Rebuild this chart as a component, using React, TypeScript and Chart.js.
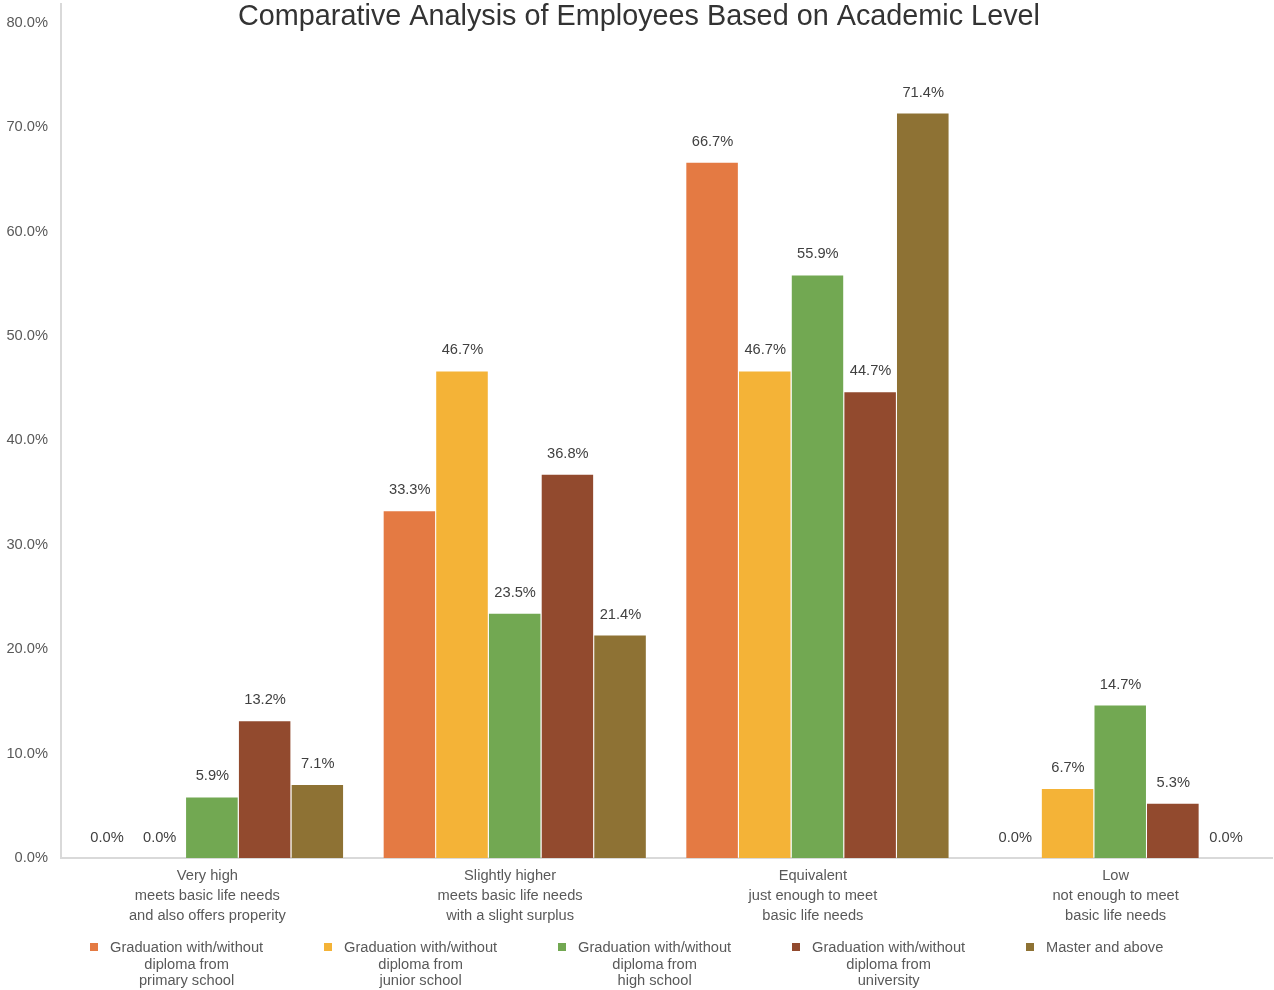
import React, { useEffect, useRef } from "react";
import { Chart, registerables } from "chart.js";

Chart.register(...registerables);

const categories: string[][] = [
  ["Very high", "meets basic life needs", "and also offers properity"],
  ["Slightly higher", "meets basic life needs", "with a slight surplus"],
  ["Equivalent", "just enough to meet", "basic life needs"],
  ["Low", "not enough to meet", "basic life needs"],
];

const seriesNames: string[][] = [
  ["Graduation with/without", "diploma from", "primary school"],
  ["Graduation with/without", "diploma from", "junior school"],
  ["Graduation with/without", "diploma from", "high school"],
  ["Graduation with/without", "diploma from", "university"],
  ["Master and above"],
];

const primarySchool = [0, 33.3, 66.7, 0];
const juniorSchool = [0, 46.7, 46.7, 6.7];
const highSchool = [5.9, 23.5, 55.9, 14.7];
const university = [13.2, 36.8, 44.7, 5.3];
const masterAbove = [7.1, 21.4, 71.4, 0];

const seriesValues = [primarySchool, juniorSchool, highSchool, university, masterAbove];
const seriesColors = ["#E47A43", "#F4B337", "#72A852", "#924A2E", "#8E7234"];

const yTickValues = [0, 10, 20, 30, 40, 50, 60, 70, 80];

const TITLE = "Comparative Analysis of Employees Based on Academic Level";
const FONT = "'Liberation Sans', Arial, sans-serif";
const FS = 14.67;

const valueLabelPlugin = {
  id: "valueLabels",
  afterDatasetsDraw(chart: any) {
    const ctx = chart.ctx;
    ctx.save();
    ctx.font = `${FS}px ${FONT}`;
    ctx.fillStyle = "#404040";
    ctx.textAlign = "center";
    ctx.textBaseline = "middle";
    chart.data.datasets.forEach((ds: any, i: number) => {
      const meta = chart.getDatasetMeta(i);
      meta.data.forEach((el: any, j: number) => {
        const v = ds.data[j];
        ctx.fillText(v.toFixed(1) + "%", el.x, el.y - 20);
      });
    });
    ctx.restore();
  },
};

const titlePlugin = {
  id: "overlayTitle",
  afterDraw(chart: any) {
    const ctx = chart.ctx;
    ctx.save();
    ctx.font = `28.8px ${FONT}`;
    ctx.fillStyle = "#333333";
    ctx.textAlign = "center";
    ctx.textBaseline = "middle";
    ctx.fillText(TITLE, chart.width / 2 + 2, 17);
    ctx.restore();
  },
};

const legendPlugin = {
  id: "multiLineLegend",
  afterDraw(chart: any) {
    const ctx = chart.ctx;
    ctx.save();
    ctx.font = `${FS}px ${FONT}`;
    ctx.textBaseline = "middle";
    const startX = 90;
    const step = 234;
    const y0 = 947;
    const lh = 16.5;
    chart.data.datasets.forEach((ds: any, i: number) => {
      const lines: string[] = seriesNames[i];
      const bx = startX + i * step;
      ctx.fillStyle = ds.backgroundColor;
      ctx.fillRect(bx, y0 - 4, 8, 8);
      const widths = lines.map((l) => ctx.measureText(l).width);
      const maxW = Math.max(...widths);
      const tx = bx + 20;
      ctx.fillStyle = "#595959";
      ctx.textAlign = "center";
      lines.forEach((l, k) => {
        ctx.fillText(l, tx + maxW / 2, y0 + 1 + k * lh);
      });
    });
    ctx.restore();
  },
};

export default function App() {
  const ref = useRef<HTMLCanvasElement>(null);
  useEffect(() => {
    if (!ref.current) return;
    const chart = new Chart(ref.current, {
      type: "bar",
      data: {
        labels: categories,
        datasets: seriesValues.map((vals, i) => ({
          label: seriesNames[i].join(" "),
          data: vals,
          backgroundColor: seriesColors[i],
          borderColor: "rgba(255,255,255,0.35)",
          borderWidth: { top: 1, right: 1, left: 0, bottom: 0 },
          borderSkipped: false,
          categoryPercentage: 0.87,
          barPercentage: 1.0,
        })),
      },
      options: {
        responsive: false,
        animation: false,
        layout: { padding: { top: 4, right: 2, left: 0, bottom: 0 } },
        plugins: {
          legend: { display: false },
          title: { display: false },
          tooltip: { enabled: false },
        },
        scales: {
          x: {
            grid: { display: false, drawTicks: false },
            border: { display: true, color: "#d9d9d9", width: 2 },
            ticks: {
              color: "#595959",
              font: { family: FONT, size: FS, lineHeight: 1.37 },
              padding: 8,
              labelOffset: -5,
              maxRotation: 0,
              autoSkip: false,
            },
            afterFit(scale: any) {
              scale.height = 132;
            },
          },
          y: {
            min: 0,
            max: 81.8,
            grid: { display: false, drawTicks: false },
            border: { display: true, color: "#d9d9d9", width: 2 },
            ticks: {
              color: "#595959",
              font: { family: FONT, size: FS },
              padding: 13,
              callback: (v: any) => Number(v).toFixed(1) + "%",
            },
            afterBuildTicks(scale: any) {
              scale.ticks = yTickValues.map((v) => ({ value: v }));
            },
            afterFit(scale: any) {
              scale.width = 61;
              scale.paddingTop = 0;
              scale.paddingBottom = 0;
            },
          },
        },
      },
      plugins: [valueLabelPlugin, titlePlugin, legendPlugin],
    });
    return () => chart.destroy();
  }, []);
  return (
    <div style={{ position: "absolute", left: 0, top: 0, width: 1274, height: 990, background: "#fff" }}>
      <canvas ref={ref} width={1274} height={990} />
    </div>
  );
}
